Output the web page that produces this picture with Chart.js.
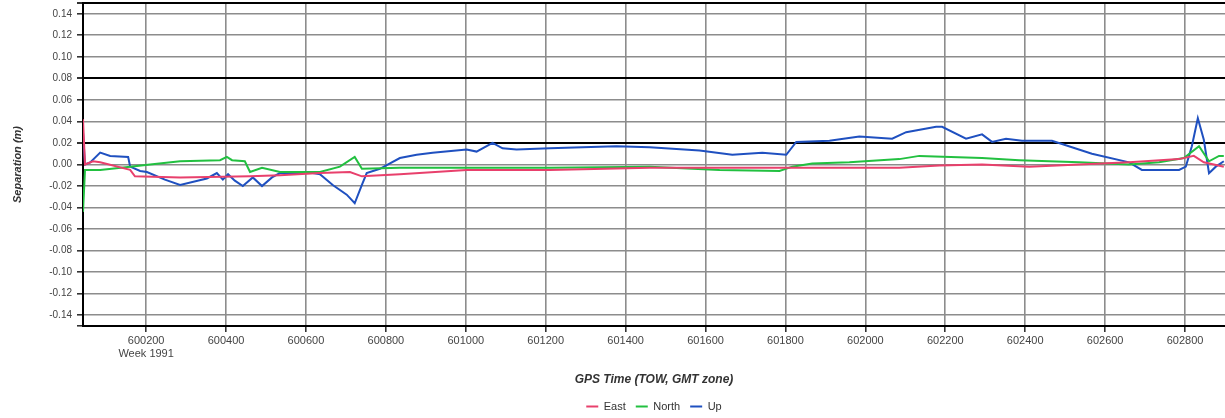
<!DOCTYPE html>
<html>
<head>
<meta charset="utf-8">
<script src="https://cdn.jsdelivr.net/npm/chart.js@4.4.1/dist/chart.umd.min.js"></script>
<style>
body{margin:0;background:#fff;}
#wrap{width:1225px;height:418px;position:relative;}
</style>
</head>
<body>
<div id="wrap"><canvas id="sepChart"></canvas></div>
<script>

// GPS time of week (s), one list per series
const eastTime = [600042,600047,600067,600085,600160,600172,600285,600460,600535,600635,600710,600740,600835,601002,601210,601460,601802,602085,602185,602292,602410,602535,602660,602785,602822,602847,602897];
const eastValues = [0.042,0.000,0.003,0.002,-0.005,-0.011,-0.012,-0.011,-0.010,-0.008,-0.007,-0.011,-0.009,-0.005,-0.005,-0.003,-0.003,-0.003,-0.001,0.000,-0.002,0.000,0.002,0.005,0.008,0.002,-0.002];

const northTime = [600042,600047,600085,600160,600210,600285,600385,600402,600415,600447,600460,600490,600535,600635,600685,600722,600740,600835,601002,601210,601460,601635,601785,601817,601867,601960,602085,602135,602292,602385,602535,602660,602735,602797,602835,602860,602885,602897];
const northValues = [-0.044,-0.005,-0.005,-0.002,0.000,0.003,0.004,0.007,0.004,0.003,-0.007,-0.003,-0.007,-0.007,-0.002,0.007,-0.004,-0.003,-0.003,-0.003,-0.002,-0.005,-0.006,-0.002,0.001,0.002,0.005,0.008,0.006,0.004,0.002,0.000,0.002,0.006,0.017,0.003,0.008,0.008];

const upTime = [600042,600047,600060,600085,600110,600155,600160,600185,600202,600247,600285,600352,600377,600392,600405,600422,600442,600467,600490,600515,600535,600617,600635,600667,600702,600722,600740,600752,600785,600835,600877,600917,601002,601027,601067,601092,601127,601210,601292,601377,601460,601585,601667,601742,601802,601827,601910,601985,602067,602102,602177,602192,602252,602292,602317,602352,602392,602467,602567,602660,602692,602785,602802,602817,602832,602847,602860,602877,602897];
const upValues = [0.030,0.000,0.002,0.011,0.008,0.007,-0.002,-0.006,-0.007,-0.014,-0.019,-0.013,-0.008,-0.014,-0.009,-0.015,-0.020,-0.012,-0.020,-0.012,-0.008,-0.008,-0.009,-0.019,-0.028,-0.036,-0.019,-0.008,-0.004,0.006,0.009,0.011,0.014,0.012,0.020,0.015,0.014,0.015,0.016,0.017,0.016,0.013,0.009,0.011,0.009,0.021,0.022,0.026,0.024,0.030,0.035,0.035,0.024,0.028,0.021,0.024,0.022,0.022,0.010,0.002,-0.005,-0.005,-0.002,0.017,0.043,0.023,-0.008,-0.002,0.003];

const xTicks = [600200,600400,600600,600800,601000,601200,601400,601600,601800,602000,602200,602400,602600,602800];
const yTicks = [-0.14,-0.12,-0.10,-0.08,-0.06,-0.04,-0.02,0.00,0.02,0.04,0.06,0.08,0.10,0.12,0.14];
const thickLines = [0.08, 0.02];
const weekLabel = "Week 1991";

const xMin = 600042, xMax = 602900;
const yMin = -0.15, yMax = 0.15;

function pairs(xs, ys){
    return xs.map((x, i) => ({x: x, y: ys[i]}));
}

function isOneOf(list, v){
    return list.some(t => Math.abs(t - v) < 1e-9);
}

const ctx = document.getElementById("sepChart");

const chart = new Chart(ctx, {

    type: "line",

    data: {
        datasets: [
            {
                label: "East",
                data: pairs(eastTime, eastValues),
                borderColor: "#e8406c",
                backgroundColor: "#e8406c",
                borderWidth: 2
            },
            {
                label: "North",
                data: pairs(northTime, northValues),
                borderColor: "#22c040",
                backgroundColor: "#22c040",
                borderWidth: 2
            },
            {
                label: "Up",
                data: pairs(upTime, upValues),
                borderColor: "#1f50c0",
                backgroundColor: "#1f50c0",
                borderWidth: 2
            }
        ]
    },

    options: {
        responsive: true,
        maintainAspectRatio: false,
        animation: false,
        layout: {
            padding: {top: 0, left: 0, right: 0, bottom: -4}
        },
        elements: {
            point: {radius: 0},
            line: {tension: 0}
        },
        plugins: {
            tooltip: {enabled: false},
            legend: {
                position: "bottom",
                fullSize: false,
                labels: {
                    usePointStyle: true,
                    pointStyle: "line",
                    pointStyleWidth: 12,
                    boxHeight: 3,
                    padding: 10,
                    color: "#333",
                    font: {family: "Liberation Sans, Arial", size: 11}
                }
            }
        },
        scales: {

            x: {
                type: "linear",
                min: xMin,
                max: xMax,
                afterBuildTicks: scale => {
                    scale.ticks = xTicks.map(v => ({value: v}));
                },
                afterFit: scale => {
                    scale.height = 65;
                    scale.paddingLeft = 0;
                    scale.paddingRight = 0;
                },
                ticks: {
                    autoSkip: false,
                    maxRotation: 0,
                    padding: 2,
                    color: "#444",
                    font: {family: "Liberation Sans, Arial", size: 11},
                    callback: (value, index) => {
                        const label = String(value);
                        return index === 0 ? [label, weekLabel] : label;
                    }
                },
                grid: {
                    color: "#8c8c8c",
                    lineWidth: 1.6,
                    tickLength: 6,
                    tickColor: "#333"
                },
                border: {
                    color: "#000",
                    width: 2
                },
                title: {
                    display: true,
                    text: "GPS Time (TOW, GMT zone)",
                    color: "#333",
                    padding: {top: 0, bottom: 4},
                    font: {family: "Liberation Sans, Arial", size: 12, style: "italic", weight: "bold"}
                }
            },

            y: {
                min: yMin,
                max: yMax,
                afterBuildTicks: scale => {
                    scale.ticks = [yMin].concat(yTicks, [yMax]).map(v => ({value: v}));
                },
                afterFit: scale => {
                    scale.width = 83;
                    scale.paddingTop = 3;
                    scale.paddingBottom = 0;
                },
                ticks: {
                    autoSkip: false,
                    padding: 5,
                    color: "#444",
                    font: {family: "Liberation Sans, Arial", size: 10},
                    callback: value => isOneOf(yTicks, value) ? value.toFixed(2) : ""
                },
                grid: {
                    color: c => {
                        const v = c.tick ? c.tick.value : 0;
                        return (isOneOf(thickLines, v) || isOneOf([yMax], v)) ? "#000" : "#8c8c8c";
                    },
                    lineWidth: c => {
                        const v = c.tick ? c.tick.value : 0;
                        return (isOneOf(thickLines, v) || isOneOf([yMax], v)) ? 2 : 1.6;
                    },
                    tickLength: 6,
                    tickColor: "#333"
                },
                border: {
                    color: "#000",
                    width: 2
                },
                title: {
                    display: true,
                    text: "Separation (m)",
                    color: "#333",
                    padding: {top: 11, bottom: 0},
                    font: {family: "Liberation Sans, Arial", size: 11, style: "italic", weight: "bold"}
                }
            }

        }
    }
});

</script>
</body>
</html>
